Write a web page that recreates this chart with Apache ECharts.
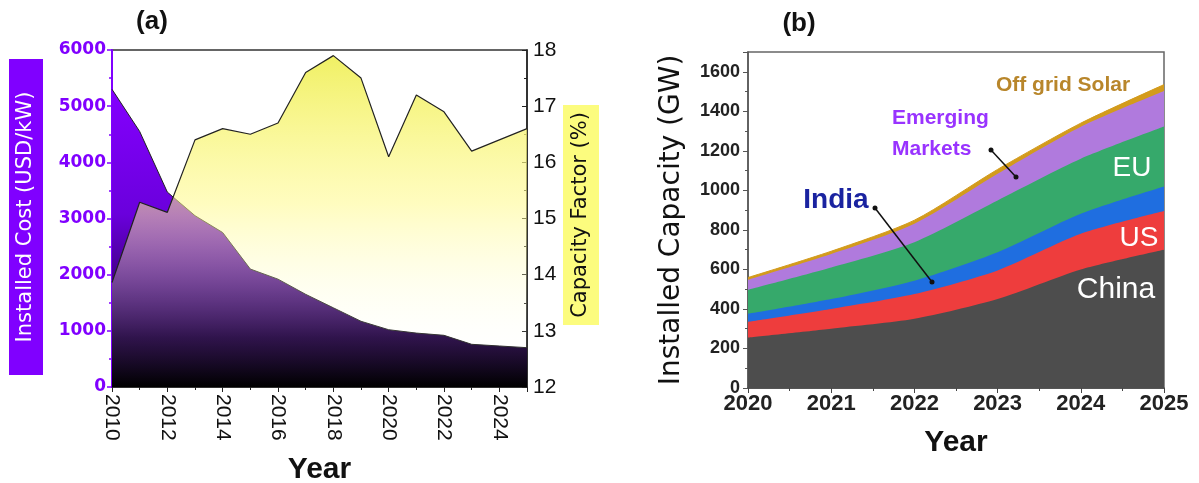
<!DOCTYPE html>
<html>
<head>
<meta charset="utf-8">
<script src="https://cdn.jsdelivr.net/npm/echarts@6/dist/echarts.min.js"></script>
<style>
html,body{margin:0;padding:0;background:#fff;}
#chart{width:1199px;height:483px;}
</style>
</head>
<body>
<div id="chart"></div>
<script>
// ---- Panel (a) data ----
const yearsA = [2010,2011,2012,2013,2014,2015,2016,2017,2018,2019,2020,2021,2022,2023,2024,2025];
const installedCost = [5300,4550,3470,3050,2750,2100,1920,1650,1410,1170,1020,960,920,760,730,700];
const capacityFactor = [13.86,15.29,15.11,16.4,16.6,16.5,16.7,17.6,17.9,17.5,16.1,17.2,16.9,16.2,16.4,16.6];

// ---- Panel (b) data (GW per segment) ----
const yearsB = [2020,2021,2022,2023,2024,2025];
const china = [255,300,350,450,600,700];
const us = [80,100,125,145,180,195];
const india = [40,50,68,92,102,125];
const eu = [122,160,195,262,278,303];
const emerging = [50,68,93,135,162,180];
const offGrid = [12,14,18,22,18,32];

const pair = (xs, ys) => xs.map((x, i) => [x, ys[i]]);
const addArr = (a, b) => a.map((v, i) => v + b[i]);

// cumulative tops for the stacked layers
const cumChina = china;
const cumUS = addArr(cumChina, us);
const cumIndia = addArr(cumUS, india);
const cumEU = addArr(cumIndia, eu);
const cumEmerging = addArr(cumEU, emerging);
const cumOffGrid = addArr(cumEmerging, offGrid);

const chart = echarts.init(document.getElementById('chart'), null, {renderer: 'canvas'});

const lin = (stops) => new echarts.graphic.LinearGradient(0, 0, 0, 1, stops.map(s => ({offset: s[0], color: s[1]})));

const layer = (name, data, color) => ({
  name, type: 'line', xAxisIndex: 1, yAxisIndex: 2,
  data: pair(yearsB, data), symbol: 'none', smooth: 0.25, z: 3,
  lineStyle: {width: 0}, areaStyle: {color, opacity: 1}
});

const option = {
  animation: false,
  backgroundColor: '#fff',
  grid: [
    {left: 112, top: 50, width: 415, height: 337, outerBoundsMode: 'none', containLabel: false, show: true, borderColor: '#333', borderWidth: 1.5, backgroundColor: 'transparent'},
    {left: 748, top: 52, width: 416, height: 336, outerBoundsMode: 'none', containLabel: false, show: true, borderColor: '#666', borderWidth: 1.5, backgroundColor: 'transparent'}
  ],
  xAxis: [
    {
      gridIndex: 0, type: 'value', min: 2010, max: 2025, interval: 2,
      axisLine: {lineStyle: {color: '#222', width: 1.5}},
      axisTick: {length: 5, lineStyle: {color: '#222'}},
      minorTick: {show: true, splitNumber: 2, length: 3, lineStyle: {color: '#222'}},
      splitLine: {show: false},
      axisLabel: {rotate: -90, showMaxLabel: false, fontFamily: 'Liberation Sans', fontSize: 21, color: '#111', margin: 7, formatter: v => String(v)},
      name: 'Year', nameLocation: 'middle', nameGap: 68,
      nameTextStyle: {fontFamily: 'Liberation Sans', fontWeight: 'bold', fontSize: 30, color: '#111'}
    },
    {
      gridIndex: 1, type: 'value', min: 2020, max: 2025, interval: 1,
      axisLine: {lineStyle: {color: '#444', width: 1.5}},
      axisTick: {length: 5, lineStyle: {color: '#444'}},
      minorTick: {show: true, splitNumber: 2, length: 3, lineStyle: {color: '#444'}},
      splitLine: {show: false},
      axisLabel: {fontFamily: 'Liberation Sans', fontWeight: 'bold', fontSize: 22, color: '#222', margin: 5, formatter: v => String(v)},
      name: 'Year', nameLocation: 'middle', nameGap: 40,
      nameTextStyle: {fontFamily: 'Liberation Sans', fontWeight: 'bold', fontSize: 30, color: '#111'}
    }
  ],
  yAxis: [
    {
      gridIndex: 0, type: 'value', min: 0, max: 6000, interval: 1000, position: 'left',
      axisLine: {show: true, lineStyle: {color: '#8000ff', width: 2}},
      axisTick: {show: true, length: 5, lineStyle: {color: '#8000ff', width: 1.5}},
      minorTick: {show: true, splitNumber: 2, length: 3, lineStyle: {color: '#8000ff', width: 1.5}},
      splitLine: {show: false},
      axisLabel: {fontFamily: 'DejaVu Sans', fontWeight: 'bold', fontSize: 17, color: '#8000ff', margin: 6, formatter: v => String(v)}
    },
    {
      gridIndex: 0, type: 'value', min: 12, max: 18, interval: 1, position: 'right',
      axisLine: {show: true, lineStyle: {color: '#222', width: 1.5}},
      axisTick: {show: true, inside: true, length: 5, lineStyle: {color: '#222'}},
      minorTick: {show: true, splitNumber: 2, length: 3, lineStyle: {color: '#222'}},
      splitLine: {show: false},
      axisLabel: {fontFamily: 'Liberation Sans', fontSize: 21, color: '#111', margin: 6, formatter: v => String(v)}
    },
    {
      gridIndex: 1, type: 'value', min: 0, max: 1700, interval: 200,
      axisLine: {show: true, lineStyle: {color: '#555', width: 1.5}},
      axisTick: {show: true, length: 5, lineStyle: {color: '#555'}},
      minorTick: {show: true, splitNumber: 2, length: 3, lineStyle: {color: '#555'}},
      splitLine: {show: false},
      axisLabel: {showMaxLabel: false, fontFamily: 'Liberation Sans', fontWeight: 'bold', fontSize: 18, color: '#222', margin: 8, formatter: v => String(v)},
      name: 'Installed Capacity (GW)', nameLocation: 'middle', nameGap: 62,
      nameTextStyle: {fontFamily: 'DejaVu Sans', fontSize: 28, color: '#111'}
    }
  ],
  series: [
    {
      name: 'Installed Cost', type: 'line', xAxisIndex: 0, yAxisIndex: 0,
      data: pair(yearsA, installedCost), symbol: 'none', z: 1,
      lineStyle: {color: '#222', width: 1},
      areaStyle: {opacity: 1, color: lin([[0, '#8400ff'], [0.42, '#6a00dc'], [1, '#000000']])}
    },
    {
      name: 'Capacity Factor', type: 'line', xAxisIndex: 0, yAxisIndex: 1,
      data: pair(yearsA, capacityFactor), symbol: 'none', z: 2,
      lineStyle: {color: '#222', width: 1.2},
      areaStyle: {opacity: 1, color: lin([[0, 'rgba(240,240,100,1)'], [0.45, 'rgba(255,250,140,0.55)'], [0.85, 'rgba(255,255,230,0.08)'], [1, 'rgba(255,255,255,0)']])}
    },
    Object.assign(layer('Off grid Solar', cumOffGrid, '#d39b1c'), {lineStyle: {width: 1, color: '#d39b1c'}}),
    layer('Emerging Markets', cumEmerging, '#b07add'),
    layer('EU', cumEU, '#36a96b'),
    layer('India', cumIndia, '#1f6ee0'),
    layer('US', cumUS, '#ee3d3d'),
    layer('China', cumChina, '#4d4d4d')
  ],
  graphic: [
    {type: 'text', x: 152, y: 22, style: {text: '(a)', fontFamily: 'Liberation Sans', fontWeight: 'bold', fontSize: 26, fill: '#111', align: 'center', verticalAlign: 'middle'}},
    {type: 'text', x: 799, y: 24, style: {text: '(b)', fontFamily: 'Liberation Sans', fontWeight: 'bold', fontSize: 26, fill: '#111', align: 'center', verticalAlign: 'middle'}},
    {type: 'rect', shape: {x: 9, y: 59, width: 34, height: 316}, style: {fill: '#8000ff'}},
    {type: 'text', x: 26, y: 217, rotation: Math.PI / 2, style: {text: 'Installed Cost (USD/kW)', fontFamily: 'DejaVu Sans', fontSize: 21, fill: '#fff', align: 'center', verticalAlign: 'middle'}},
    {type: 'rect', shape: {x: 563, y: 105, width: 36, height: 220}, style: {fill: '#fcfc7e'}},
    {type: 'text', x: 581, y: 215, rotation: Math.PI / 2, style: {text: 'Capacity Factor (%)', fontFamily: 'DejaVu Sans', fontSize: 21, fill: '#111', align: 'center', verticalAlign: 'middle'}},
    {type: 'text', x: 1116, y: 290, z: 10, style: {text: 'China', fontFamily: 'Liberation Sans', fontSize: 30, fill: '#fff', align: 'center', verticalAlign: 'middle'}},
    {type: 'text', x: 1139, y: 238, z: 10, style: {text: 'US', fontFamily: 'Liberation Sans', fontSize: 28, fill: '#fff', align: 'center', verticalAlign: 'middle'}},
    {type: 'text', x: 1132, y: 168, z: 10, style: {text: 'EU', fontFamily: 'Liberation Sans', fontSize: 28, fill: '#fff', align: 'center', verticalAlign: 'middle'}},
    {type: 'text', x: 836, y: 200, z: 10, style: {text: 'India', fontFamily: 'Liberation Sans', fontWeight: 'bold', fontSize: 28, fill: '#1a23a0', align: 'center', verticalAlign: 'middle'}},
    {type: 'text', x: 892, y: 118, z: 10, style: {text: 'Emerging', fontFamily: 'Liberation Sans', fontWeight: 'bold', fontSize: 21, fill: '#9933ff', align: 'left', verticalAlign: 'middle'}},
    {type: 'text', x: 892, y: 149, z: 10, style: {text: 'Markets', fontFamily: 'Liberation Sans', fontWeight: 'bold', fontSize: 21, fill: '#9933ff', align: 'left', verticalAlign: 'middle'}},
    {type: 'text', x: 1063, y: 85, z: 10, style: {text: 'Off grid Solar', fontFamily: 'Liberation Sans', fontWeight: 'bold', fontSize: 21, fill: '#b8862b', align: 'center', verticalAlign: 'middle'}},
    {type: 'line', z: 10, shape: {x1: 875, y1: 208, x2: 932, y2: 282}, style: {stroke: '#111', lineWidth: 1.5}},
    {type: 'circle', z: 10, shape: {cx: 875, cy: 208, r: 2.5}, style: {fill: '#111'}},
    {type: 'circle', z: 10, shape: {cx: 932, cy: 282, r: 2.5}, style: {fill: '#111'}},
    {type: 'line', z: 10, shape: {x1: 991, y1: 150, x2: 1016, y2: 177}, style: {stroke: '#111', lineWidth: 1.5}},
    {type: 'circle', z: 10, shape: {cx: 991, cy: 150, r: 2.5}, style: {fill: '#111'}},
    {type: 'circle', z: 10, shape: {cx: 1016, cy: 177, r: 2.5}, style: {fill: '#111'}}
  ]
};
chart.setOption(option);
</script>
</body>
</html>
